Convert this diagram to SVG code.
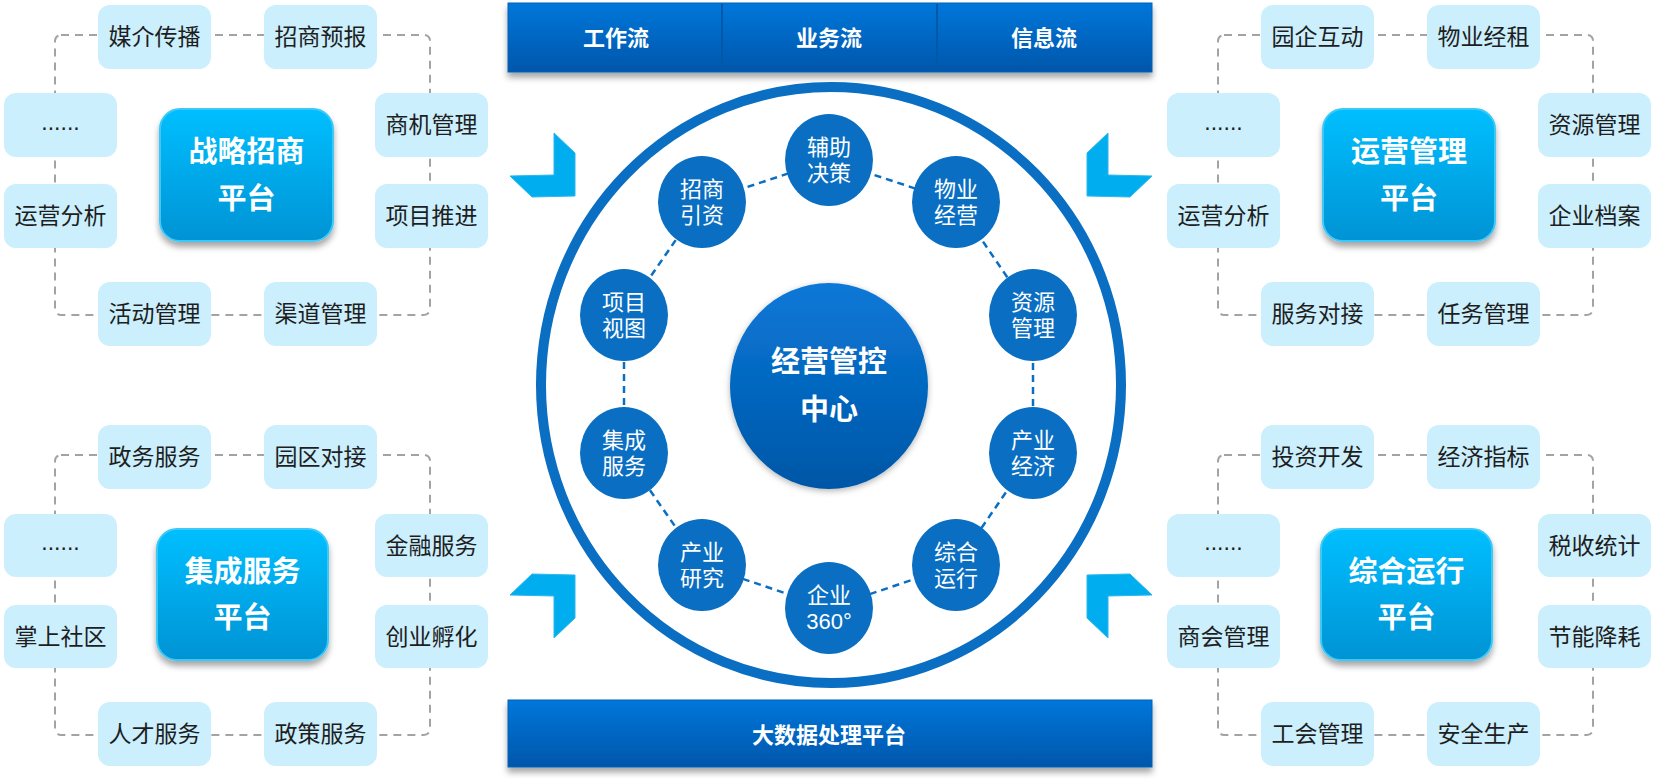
<svg xmlns="http://www.w3.org/2000/svg" width="1655" height="779" viewBox="0 0 1655 779">
<defs>
<linearGradient id="gPlat" x1="0" y1="0" x2="0" y2="1">
<stop offset="0" stop-color="#00BFFF"/>
<stop offset="1" stop-color="#0093D4"/>
</linearGradient>
<linearGradient id="gBar" x1="0" y1="0" x2="0" y2="1">
<stop offset="0" stop-color="#0077DB"/>
<stop offset="1" stop-color="#0056AA"/>
</linearGradient>
<linearGradient id="gHub" x1="0" y1="0" x2="0" y2="1">
<stop offset="0" stop-color="#0A78D8"/>
<stop offset="1" stop-color="#0056A6"/>
</linearGradient>
<filter id="sh" x="-20%" y="-20%" width="140%" height="150%">
<feDropShadow dx="0" dy="5" stdDeviation="3" flood-color="#000" flood-opacity="0.35"/>
</filter>
<filter id="shHub" x="-20%" y="-20%" width="140%" height="140%">
<feDropShadow dx="0" dy="2" stdDeviation="3" flood-color="#000" flood-opacity="0.3"/>
</filter>
</defs>
<style>
text{font-family:"Liberation Sans","Noto Sans CJK SC",sans-serif;text-anchor:middle;dominant-baseline:central}
.box{fill:#CBEFFD}
.bt{font-size:23px;fill:#1E1E1E}
.plat{fill:url(#gPlat);stroke:#3CC9F7;stroke-width:2;filter:url(#sh)}
.pt{font-size:29px;font-weight:bold;fill:#fff}
.bar{fill:url(#gBar);stroke:#0062B8;stroke-width:1;filter:url(#sh)}
.bart{font-size:22px;font-weight:bold;fill:#fff}
.dash{fill:none;stroke:#A3A3A3;stroke-width:2;stroke-dasharray:8 6}
.link{stroke:#0A6FC2;stroke-width:2.5;stroke-dasharray:7 5}
.node{fill:#0A6FC2}
.nt{font-size:22px;fill:#fff}
.chev{fill:#00AEEF;stroke:#2BB6EE;stroke-width:1}
</style>

<g id="connectors">
<rect class="dash" x="55" y="35" width="375" height="280" rx="6"/>
<rect class="dash" x="1218" y="35" width="375" height="280" rx="6"/>
<rect class="dash" x="55" y="455" width="375" height="280" rx="6"/>
<rect class="dash" x="1218" y="455" width="375" height="280" rx="6"/>
<line class="link" x1="829" y1="160" x2="956" y2="202"/>
<line class="link" x1="956" y1="202" x2="1033" y2="315"/>
<line class="link" x1="1033" y1="315" x2="1033" y2="453"/>
<line class="link" x1="1033" y1="453" x2="956" y2="565"/>
<line class="link" x1="956" y1="565" x2="829" y2="608"/>
<line class="link" x1="829" y1="608" x2="702" y2="565"/>
<line class="link" x1="702" y1="565" x2="624" y2="453"/>
<line class="link" x1="624" y1="453" x2="624" y2="315"/>
<line class="link" x1="624" y1="315" x2="702" y2="202"/>
<line class="link" x1="702" y1="202" x2="829" y2="160"/>
</g>

<g id="ring">
<ellipse cx="831" cy="385" rx="290" ry="298" fill="none" stroke="#0A6FC2" stroke-width="10"/>
</g>

<g id="chevrons">
<polygon class="chev" points="554,133 575,153 575,196 532,197 510,176 554,175"/>
<polygon class="chev" points="1108,133 1087,153 1087,196 1130,197 1152,176 1108,175"/>
<polygon class="chev" points="554,638 575,618 575,575 532,574 510,595 554,596"/>
<polygon class="chev" points="1108,638 1087,618 1087,575 1130,574 1152,595 1108,596"/>
</g>

<g id="top-bar">
<rect class="bar" x="508" y="3" width="644" height="69"/>
<line x1="722" y1="4" x2="722" y2="71" stroke="#0058A8" stroke-width="2"/>
<line x1="937" y1="4" x2="937" y2="71" stroke="#0058A8" stroke-width="2"/>
<text class="bart" x="616" y="38">工作流</text>
<text class="bart" x="829" y="38">业务流</text>
<text class="bart" x="1044" y="38">信息流</text>
</g>

<g id="bottom-bar">
<rect class="bar" x="508" y="700" width="644" height="67"/>
<text class="bart" x="829" y="735">大数据处理平台</text>
</g>

<g id="hub">
<ellipse cx="829" cy="386" rx="99" ry="103" fill="url(#gHub)" filter="url(#shHub)"/>
<text class="pt" x="829" y="362">经营管控</text>
<text class="pt" x="829" y="410">中心</text>
</g>

<g id="n-fuzhu"><ellipse class="node" cx="829" cy="160" rx="44" ry="46"/><text class="nt" x="829" y="147">辅助</text><text class="nt" x="829" y="173">决策</text></g>
<g id="n-wuye"><ellipse class="node" cx="956" cy="202" rx="44" ry="46"/><text class="nt" x="956" y="189">物业</text><text class="nt" x="956" y="215">经营</text></g>
<g id="n-ziyuan"><ellipse class="node" cx="1033" cy="315" rx="44" ry="46"/><text class="nt" x="1033" y="302">资源</text><text class="nt" x="1033" y="328">管理</text></g>
<g id="n-chanyejj"><ellipse class="node" cx="1033" cy="453" rx="44" ry="46"/><text class="nt" x="1033" y="440">产业</text><text class="nt" x="1033" y="466">经济</text></g>
<g id="n-zonghe"><ellipse class="node" cx="956" cy="565" rx="44" ry="46"/><text class="nt" x="956" y="552">综合</text><text class="nt" x="956" y="578">运行</text></g>
<g id="n-qiye"><ellipse class="node" cx="829" cy="608" rx="44" ry="46"/><text class="nt" x="829" y="595">企业</text><text class="nt" x="829" y="621">360°</text></g>
<g id="n-chanyeyj"><ellipse class="node" cx="702" cy="565" rx="44" ry="46"/><text class="nt" x="702" y="552">产业</text><text class="nt" x="702" y="578">研究</text></g>
<g id="n-jicheng"><ellipse class="node" cx="624" cy="453" rx="44" ry="46"/><text class="nt" x="624" y="440">集成</text><text class="nt" x="624" y="466">服务</text></g>
<g id="n-xiangmu"><ellipse class="node" cx="624" cy="315" rx="44" ry="46"/><text class="nt" x="624" y="302">项目</text><text class="nt" x="624" y="328">视图</text></g>
<g id="n-zhaoshang"><ellipse class="node" cx="702" cy="202" rx="44" ry="46"/><text class="nt" x="702" y="189">招商</text><text class="nt" x="702" y="215">引资</text></g>

<!-- Top-left quadrant -->
<g id="p-zlzs"><rect class="plat" x="160" y="109" width="173" height="132" rx="20"/><text class="pt" x="246.5" y="152">战略招商</text><text class="pt" x="246.5" y="199">平台</text></g>
<g id="b-tl1"><rect class="box" x="98" y="5" width="113" height="64" rx="12"/><text class="bt" x="154.5" y="37">媒介传播</text></g>
<g id="b-tl2"><rect class="box" x="264" y="5" width="113" height="64" rx="12"/><text class="bt" x="320.5" y="37">招商预报</text></g>
<g id="b-tl3"><rect class="box" x="4" y="93" width="113" height="64" rx="12"/><text class="bt" x="60.5" y="122">......</text></g>
<g id="b-tl4"><rect class="box" x="375" y="93" width="113" height="64" rx="12"/><text class="bt" x="431.5" y="125">商机管理</text></g>
<g id="b-tl5"><rect class="box" x="4" y="184" width="113" height="64" rx="12"/><text class="bt" x="60.5" y="216">运营分析</text></g>
<g id="b-tl6"><rect class="box" x="375" y="184" width="113" height="64" rx="12"/><text class="bt" x="431.5" y="216">项目推进</text></g>
<g id="b-tl7"><rect class="box" x="98" y="282" width="113" height="64" rx="12"/><text class="bt" x="154.5" y="314">活动管理</text></g>
<g id="b-tl8"><rect class="box" x="264" y="282" width="113" height="64" rx="12"/><text class="bt" x="320.5" y="314">渠道管理</text></g>

<!-- Top-right quadrant -->
<g id="p-yygl"><rect class="plat" x="1323" y="109" width="172" height="132" rx="20"/><text class="pt" x="1409" y="152">运营管理</text><text class="pt" x="1409" y="199">平台</text></g>
<g id="b-tr1"><rect class="box" x="1261" y="5" width="113" height="64" rx="12"/><text class="bt" x="1317.5" y="37">园企互动</text></g>
<g id="b-tr2"><rect class="box" x="1427" y="5" width="113" height="64" rx="12"/><text class="bt" x="1483.5" y="37">物业经租</text></g>
<g id="b-tr3"><rect class="box" x="1167" y="93" width="113" height="64" rx="12"/><text class="bt" x="1223.5" y="122">......</text></g>
<g id="b-tr4"><rect class="box" x="1538" y="93" width="113" height="64" rx="12"/><text class="bt" x="1594.5" y="125">资源管理</text></g>
<g id="b-tr5"><rect class="box" x="1167" y="184" width="113" height="64" rx="12"/><text class="bt" x="1223.5" y="216">运营分析</text></g>
<g id="b-tr6"><rect class="box" x="1538" y="184" width="113" height="64" rx="12"/><text class="bt" x="1594.5" y="216">企业档案</text></g>
<g id="b-tr7"><rect class="box" x="1261" y="282" width="113" height="64" rx="12"/><text class="bt" x="1317.5" y="314">服务对接</text></g>
<g id="b-tr8"><rect class="box" x="1427" y="282" width="113" height="64" rx="12"/><text class="bt" x="1483.5" y="314">任务管理</text></g>

<!-- Bottom-left quadrant -->
<g id="p-jcfw"><rect class="plat" x="157" y="529" width="171" height="131" rx="20"/><text class="pt" x="242.5" y="572">集成服务</text><text class="pt" x="242.5" y="618">平台</text></g>
<g id="b-bl1"><rect class="box" x="98" y="425" width="113" height="64" rx="12"/><text class="bt" x="154.5" y="457">政务服务</text></g>
<g id="b-bl2"><rect class="box" x="264" y="425" width="113" height="64" rx="12"/><text class="bt" x="320.5" y="457">园区对接</text></g>
<g id="b-bl3"><rect class="box" x="4" y="514" width="113" height="63" rx="12"/><text class="bt" x="60.5" y="542">......</text></g>
<g id="b-bl4"><rect class="box" x="375" y="514" width="113" height="63" rx="12"/><text class="bt" x="431.5" y="546">金融服务</text></g>
<g id="b-bl5"><rect class="box" x="4" y="605" width="113" height="63" rx="12"/><text class="bt" x="60.5" y="637">掌上社区</text></g>
<g id="b-bl6"><rect class="box" x="375" y="605" width="113" height="63" rx="12"/><text class="bt" x="431.5" y="637">创业孵化</text></g>
<g id="b-bl7"><rect class="box" x="98" y="702" width="113" height="64" rx="12"/><text class="bt" x="154.5" y="734">人才服务</text></g>
<g id="b-bl8"><rect class="box" x="264" y="702" width="113" height="64" rx="12"/><text class="bt" x="320.5" y="734">政策服务</text></g>

<!-- Bottom-right quadrant -->
<g id="p-zhyx"><rect class="plat" x="1321" y="529" width="171" height="131" rx="20"/><text class="pt" x="1406.5" y="572">综合运行</text><text class="pt" x="1406.5" y="618">平台</text></g>
<g id="b-br1"><rect class="box" x="1261" y="425" width="113" height="64" rx="12"/><text class="bt" x="1317.5" y="457">投资开发</text></g>
<g id="b-br2"><rect class="box" x="1427" y="425" width="113" height="64" rx="12"/><text class="bt" x="1483.5" y="457">经济指标</text></g>
<g id="b-br3"><rect class="box" x="1167" y="514" width="113" height="63" rx="12"/><text class="bt" x="1223.5" y="542">......</text></g>
<g id="b-br4"><rect class="box" x="1538" y="514" width="113" height="63" rx="12"/><text class="bt" x="1594.5" y="546">税收统计</text></g>
<g id="b-br5"><rect class="box" x="1167" y="605" width="113" height="63" rx="12"/><text class="bt" x="1223.5" y="637">商会管理</text></g>
<g id="b-br6"><rect class="box" x="1538" y="605" width="113" height="63" rx="12"/><text class="bt" x="1594.5" y="637">节能降耗</text></g>
<g id="b-br7"><rect class="box" x="1261" y="702" width="113" height="64" rx="12"/><text class="bt" x="1317.5" y="734">工会管理</text></g>
<g id="b-br8"><rect class="box" x="1427" y="702" width="113" height="64" rx="12"/><text class="bt" x="1483.5" y="734">安全生产</text></g>
</svg>
